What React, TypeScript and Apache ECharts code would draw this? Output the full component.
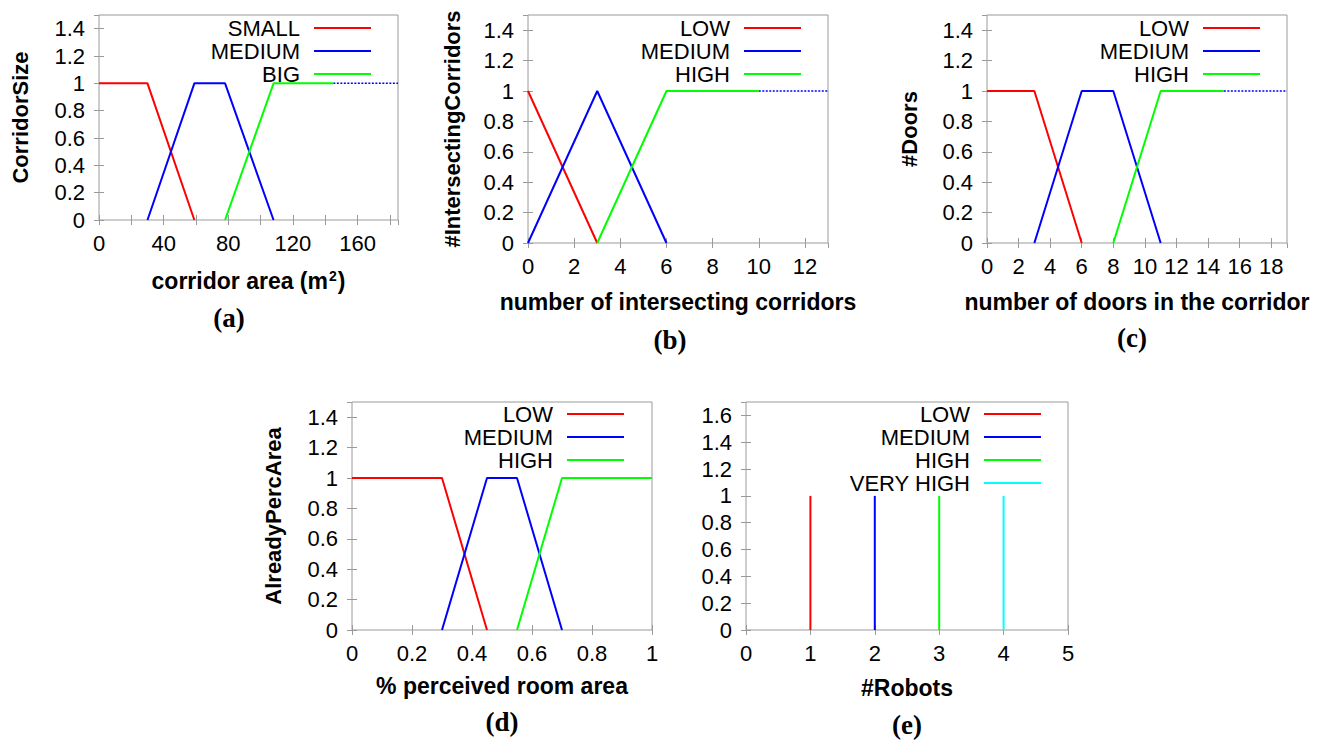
import React, { useEffect, useRef } from "react";
import * as echarts from "echarts";

const RED = "#ff0000";
const BLUE = "#0000ff";
const GREEN = "#00ff00";
const CYAN = "#00ffff";
const SANS = "Liberation Sans, Arial, Helvetica, sans-serif";
const SERIF = "Liberation Serif, Times New Roman, serif";

// (a) corridor area
const aNames = ["SMALL", "MEDIUM", "BIG"];
const aSmall = [[0, 1], [30, 1], [59, 0]];
const aMedium = [[30, 0], [59, 1], [78, 1], [108, 0]];
const aBig = [[78, 0], [108, 1], [145, 1]];
const aTail = [[145, 1], [185, 1]];

// (b) intersecting corridors
const bNames = ["LOW", "MEDIUM", "HIGH"];
const bLow = [[0, 1], [3, 0]];
const bMedium = [[0, 0], [3, 1], [6, 0]];
const bHigh = [[3, 0], [6, 1], [10, 1]];
const bTail = [[10, 1], [13, 1]];

// (c) doors
const cNames = ["LOW", "MEDIUM", "HIGH"];
const cLow = [[0, 1], [3, 1], [6, 0]];
const cMedium = [[3, 0], [6, 1], [8, 1], [11, 0]];
const cHigh = [[8, 0], [11, 1], [15, 1]];
const cTail = [[15, 1], [19, 1]];

// (d) perceived room area
const dNames = ["LOW", "MEDIUM", "HIGH"];
const dLow = [[0, 1], [0.3, 1], [0.45, 0]];
const dMedium = [[0.3, 0], [0.45, 1], [0.55, 1], [0.7, 0]];
const dHigh = [[0.55, 0], [0.7, 1], [1, 1]];

// (e) robots
const eNames = ["LOW", "MEDIUM", "HIGH", "VERY HIGH"];
const eLow = [[1, 0], [1, 1]];
const eMedium = [[2, 0], [2, 1]];
const eHigh = [[3, 0], [3, 1]];
const eVeryHigh = [[4, 0], [4, 1]];

type Panel = {
  grid: { left: number; top: number; width: number; height: number };
  xMax: number;
  xInterval: number;
  xLabelEvery: number;
  showMaxX: boolean;
  yMax: number;
  xTitle: string;
  yTitle: string;
  xGap: number;
  yGap: number;
  caption: string;
  capX: number;
  capY: number;
  legendRight: number;
  legendTop: number;
  names: string[];
  colors: string[];
  data: number[][][];
  tail?: number[][];
};

const panels: Panel[] = [
  {
    grid: { left: 99, top: 15, width: 299, height: 205 },
    xMax: 185, xInterval: 20, xLabelEvery: 40, showMaxX: false, yMax: 1.5,
    xTitle: "corridor area (m{sup|2})", yTitle: "CorridorSize", xGap: 49, yGap: 68,
    caption: "(a)", capX: 229, capY: 318,
    legendRight: 953, legendTop: 17,
    names: aNames, colors: [RED, BLUE, GREEN], data: [aSmall, aMedium, aBig], tail: aTail,
  },
  {
    grid: { left: 528, top: 15, width: 300, height: 228 },
    xMax: 13, xInterval: 2, xLabelEvery: 2, showMaxX: false, yMax: 1.5,
    xTitle: "number of intersecting corridors", yTitle: "#IntersectingCorridors", xGap: 47, yGap: 65,
    caption: "(b)", capX: 670, capY: 340,
    legendRight: 523, legendTop: 17,
    names: bNames, colors: [RED, BLUE, GREEN], data: [bLow, bMedium, bHigh], tail: bTail,
  },
  {
    grid: { left: 987, top: 15, width: 300, height: 228 },
    xMax: 19, xInterval: 2, xLabelEvery: 2, showMaxX: false, yMax: 1.5,
    xTitle: "number of doors in the corridor", yTitle: "#Doors", xGap: 47, yGap: 67,
    caption: "(c)", capX: 1132, capY: 338,
    legendRight: 64, legendTop: 17,
    names: cNames, colors: [RED, BLUE, GREEN], data: [cLow, cMedium, cHigh], tail: cTail,
  },
  {
    grid: { left: 352, top: 402, width: 300, height: 228 },
    xMax: 1, xInterval: 0.2, xLabelEvery: 0.2, showMaxX: true, yMax: 1.5,
    xTitle: "% perceived room area", yTitle: "AlreadyPercArea", xGap: 44, yGap: 68,
    caption: "(d)", capX: 502, capY: 722,
    legendRight: 700, legendTop: 403,
    names: dNames, colors: [RED, BLUE, GREEN], data: [dLow, dMedium, dHigh],
  },
  {
    grid: { left: 746, top: 402, width: 322, height: 228 },
    xMax: 5, xInterval: 1, xLabelEvery: 1, showMaxX: true, yMax: 1.7,
    xTitle: "#Robots", yTitle: "", xGap: 46, yGap: 66,
    caption: "(e)", capX: 907, capY: 725,
    legendRight: 283, legendTop: 403,
    names: eNames, colors: [RED, BLUE, GREEN, CYAN], data: [eLow, eMedium, eHigh, eVeryHigh],
  },
];

const TICK_COLOR = "#9a9a9a";

function buildOption() {
  const grid: any[] = [];
  const xAxis: any[] = [];
  const yAxis: any[] = [];
  const series: any[] = [];
  const legend: any[] = [];
  const graphic: any[] = [];

  panels.forEach((p, i) => {
    grid.push({
      ...p.grid,
      show: true,
      borderColor: TICK_COLOR,
      borderWidth: 1,
      backgroundColor: "transparent",
      containLabel: false,
      outerBoundsMode: "none",
    });
    const every = p.xLabelEvery;
    xAxis.push({
      type: "value",
      gridIndex: i,
      position: "bottom",
      min: 0,
      max: p.xMax,
      interval: p.xInterval,
      splitLine: { show: false },
      axisLine: { show: false },
      axisTick: { show: true, inside: true, length: 5, lineStyle: { color: TICK_COLOR } },
      axisLabel: {
        show: true,
        margin: 12,
        fontSize: 22,
        fontFamily: SANS,
        color: "#000",
        showMaxLabel: p.showMaxX,
        formatter: (v: number) => {
          const r = v / every;
          return Math.abs(r - Math.round(r)) < 1e-6 ? String(+v.toFixed(4)) : "";
        },
      },
      name: p.xTitle,
      nameLocation: "middle",
      nameGap: p.xGap,
      nameTextStyle: {
        fontSize: 23,
        fontWeight: "bold",
        fontFamily: SANS,
        color: "#000",
        rich: {
          sup: {
            fontSize: 14,
            fontWeight: "bold",
            fontFamily: SANS,
            color: "#000",
            verticalAlign: "top",
            padding: [0, 1, 0, 1],
          },
        },
      },
    });
    xAxis.push({
      type: "value",
      gridIndex: i,
      position: "top",
      min: 0,
      max: p.xMax,
      interval: p.xInterval,
      splitLine: { show: false },
      axisLine: { show: false },
      axisTick: { show: true, inside: true, length: 5, lineStyle: { color: TICK_COLOR } },
      axisLabel: { show: false },
    });
    yAxis.push({
      type: "value",
      gridIndex: i,
      position: "left",
      min: 0,
      max: p.yMax,
      interval: 0.2,
      splitLine: { show: false },
      axisLine: { show: false },
      axisTick: { show: true, inside: true, length: 5, lineStyle: { color: TICK_COLOR } },
      axisLabel: {
        show: true,
        margin: 14,
        fontSize: 22,
        fontFamily: SANS,
        color: "#000",
        showMaxLabel: false,
      },
      name: p.yTitle,
      nameLocation: "middle",
      nameGap: p.yGap,
      nameRotate: 90,
      nameTextStyle: { fontSize: 22, fontWeight: "bold", fontFamily: SANS, color: "#000" },
    });
    yAxis.push({
      type: "value",
      gridIndex: i,
      position: "right",
      min: 0,
      max: p.yMax,
      interval: 0.2,
      splitLine: { show: false },
      axisLine: { show: false },
      axisTick: { show: true, inside: true, length: 5, lineStyle: { color: TICK_COLOR } },
      axisLabel: { show: false },
    });

    p.names.forEach((name, k) => {
      series.push({
        type: "line",
        name,
        xAxisIndex: 2 * i,
        yAxisIndex: 2 * i,
        data: p.data[k],
        symbol: "none",
        silent: true,
        lineStyle: { color: p.colors[k], width: 2 },
        itemStyle: { color: p.colors[k] },
        z: 3,
      });
    });
    if (p.tail) {
      series.push({
        type: "line",
        name: "tail-" + i,
        xAxisIndex: 2 * i,
        yAxisIndex: 2 * i,
        data: p.tail,
        symbol: "none",
        silent: true,
        lineStyle: { color: BLUE, width: 1.5, type: [2, 1.5] },
        itemStyle: { color: BLUE },
        z: 2,
      });
    }

    legend.push({
      data: p.names,
      orient: "vertical",
      align: "right",
      right: p.legendRight,
      top: p.legendTop,
      icon: "rect",
      itemWidth: 57,
      itemHeight: 2,
      itemGap: 1,
      padding: 0,
      selectedMode: false,
      textStyle: {
        fontSize: 22,
        fontFamily: SANS,
        color: "#000",
        lineHeight: 22,
        padding: [0, 9, 0, 0],
      },
    });

    graphic.push({
      type: "text",
      x: p.capX,
      y: p.capY,
      style: {
        text: p.caption,
        fontSize: 27,
        fontWeight: "bold",
        fontFamily: SERIF,
        fill: "#000",
        align: "center",
        verticalAlign: "middle",
      },
    });
  });

  return {
    animation: false,
    backgroundColor: "#ffffff",
    textStyle: { fontFamily: SANS },
    grid,
    xAxis,
    yAxis,
    series,
    legend,
    graphic,
  };
}

export default function App() {
  const ref = useRef<HTMLDivElement>(null);
  useEffect(() => {
    if (!ref.current) return;
    const chart = echarts.init(ref.current, undefined, { renderer: "svg" });
    chart.setOption(buildOption() as any);
    return () => chart.dispose();
  }, []);
  return (
    <div
      ref={ref}
      style={{ position: "fixed", left: 0, top: 0, width: 1324, height: 741, background: "#fff" }}
    />
  );
}
